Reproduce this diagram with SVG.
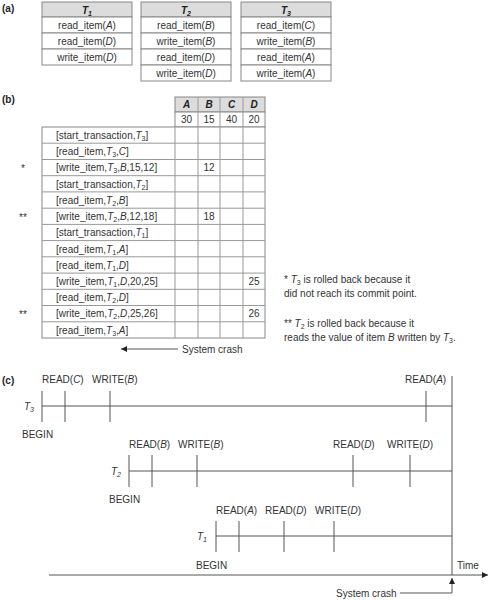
<svg xmlns="http://www.w3.org/2000/svg" width="490" height="600" viewBox="0 0 490 600">
<style>
text{font-family:"Liberation Sans",Arial,sans-serif;font-size:10px;fill:#333}
.lbl{font-weight:bold;font-size:10px;fill:#222}
.hd{font-weight:bold;font-style:italic;fill:#222}
.c{text-anchor:middle}
.cell{fill:#fff;stroke:#888;stroke-width:1}
.hcell{fill:#dcdcdc;stroke:#888;stroke-width:1}
.ln{stroke:#999;stroke-width:1;fill:none}
.tl{stroke:#555;stroke-width:1;fill:none}
</style>
<defs>
<marker id="ah" viewBox="0 0 10 10" refX="10" refY="5" markerWidth="8" markerHeight="6" orient="auto" markerUnits="userSpaceOnUse"><path d="M0,0 L10,5 L0,10 z" fill="#222"/></marker>
</defs>
<rect width="490" height="600" fill="#fff"/>

<text class="lbl" x="2" y="12">(a)</text>
<g id="T1table">
<rect class="hcell" x="42" y="2" width="90" height="15"/>
<rect class="cell" x="42" y="17" width="90" height="16"/>
<rect class="cell" x="42" y="33" width="90" height="16"/>
<rect class="cell" x="42" y="49" width="90" height="16"/>
<text class="hd c" x="87" y="14">T<tspan font-size="7" dy="2">1</tspan></text>
<text class="c" x="87" y="29">read_item(<tspan font-style="italic">A</tspan>)</text>
<text class="c" x="87" y="45">read_item(<tspan font-style="italic">D</tspan>)</text>
<text class="c" x="87" y="61">write_item(<tspan font-style="italic">D</tspan>)</text>
</g>
<g id="T2table">
<rect class="hcell" x="141" y="2" width="90" height="15"/>
<rect class="cell" x="141" y="17" width="90" height="16"/>
<rect class="cell" x="141" y="33" width="90" height="16"/>
<rect class="cell" x="141" y="49" width="90" height="16"/>
<rect class="cell" x="141" y="65" width="90" height="16"/>
<text class="hd c" x="186" y="14">T<tspan font-size="7" dy="2">2</tspan></text>
<text class="c" x="186" y="29">read_item(<tspan font-style="italic">B</tspan>)</text>
<text class="c" x="186" y="45">write_item(<tspan font-style="italic">B</tspan>)</text>
<text class="c" x="186" y="61">read_item(<tspan font-style="italic">D</tspan>)</text>
<text class="c" x="186" y="77">write_item(<tspan font-style="italic">D</tspan>)</text>
</g>
<g id="T3table">
<rect class="hcell" x="241" y="2" width="90" height="15"/>
<rect class="cell" x="241" y="17" width="90" height="16"/>
<rect class="cell" x="241" y="33" width="90" height="16"/>
<rect class="cell" x="241" y="49" width="90" height="16"/>
<rect class="cell" x="241" y="65" width="90" height="16"/>
<text class="hd c" x="286" y="14">T<tspan font-size="7" dy="2">3</tspan></text>
<text class="c" x="286" y="29">read_item(<tspan font-style="italic">C</tspan>)</text>
<text class="c" x="286" y="45">write_item(<tspan font-style="italic">B</tspan>)</text>
<text class="c" x="286" y="61">read_item(<tspan font-style="italic">A</tspan>)</text>
<text class="c" x="286" y="77">write_item(<tspan font-style="italic">A</tspan>)</text>
</g>

<text class="lbl" x="2" y="103">(b)</text>
<g id="logtable">
<rect class="hcell" x="175" y="97" width="90" height="15"/>
<rect class="cell" x="175" y="112" width="90" height="15"/>
<rect class="cell" x="42" y="127" width="223" height="211"/>
<g class="ln">
<line x1="198" y1="97" x2="198" y2="338"/>
<line x1="220" y1="97" x2="220" y2="338"/>
<line x1="243" y1="97" x2="243" y2="338"/>
<line x1="175" y1="127" x2="175" y2="338"/>
<line x1="42" y1="143.2" x2="265" y2="143.2"/>
<line x1="42" y1="159.5" x2="265" y2="159.5"/>
<line x1="42" y1="175.7" x2="265" y2="175.7"/>
<line x1="42" y1="191.9" x2="265" y2="191.9"/>
<line x1="42" y1="208.2" x2="265" y2="208.2"/>
<line x1="42" y1="224.4" x2="265" y2="224.4"/>
<line x1="42" y1="240.6" x2="265" y2="240.6"/>
<line x1="42" y1="256.8" x2="265" y2="256.8"/>
<line x1="42" y1="273.1" x2="265" y2="273.1"/>
<line x1="42" y1="289.3" x2="265" y2="289.3"/>
<line x1="42" y1="305.5" x2="265" y2="305.5"/>
<line x1="42" y1="321.8" x2="265" y2="321.8"/>
</g>
<text class="hd c" x="186.5" y="108">A</text>
<text class="hd c" x="209" y="108">B</text>
<text class="hd c" x="231.5" y="108">C</text>
<text class="hd c" x="254" y="108">D</text>
<text class="c" x="186.5" y="123">30</text>
<text class="c" x="209" y="123">15</text>
<text class="c" x="231.5" y="123">40</text>
<text class="c" x="254" y="123">20</text>
<text x="56" y="139">[start_transaction,<tspan font-style="italic">T</tspan><tspan font-size="7" dy="2">3</tspan><tspan dy="-2">]</tspan></text>
<text x="56" y="155">[read_item,<tspan font-style="italic">T</tspan><tspan font-size="7" dy="2">3</tspan><tspan dy="-2">,</tspan><tspan font-style="italic">C</tspan>]</text>
<text x="56" y="171">[write_item,<tspan font-style="italic">T</tspan><tspan font-size="7" dy="2">3</tspan><tspan dy="-2">,</tspan><tspan font-style="italic">B</tspan>,15,12]</text>
<text x="56" y="187.5">[start_transaction,<tspan font-style="italic">T</tspan><tspan font-size="7" dy="2">2</tspan><tspan dy="-2">]</tspan></text>
<text x="56" y="204">[read_item,<tspan font-style="italic">T</tspan><tspan font-size="7" dy="2">2</tspan><tspan dy="-2">,</tspan><tspan font-style="italic">B</tspan>]</text>
<text x="56" y="220">[write_item,<tspan font-style="italic">T</tspan><tspan font-size="7" dy="2">2</tspan><tspan dy="-2">,</tspan><tspan font-style="italic">B</tspan>,12,18]</text>
<text x="56" y="236">[start_transaction,<tspan font-style="italic">T</tspan><tspan font-size="7" dy="2">1</tspan><tspan dy="-2">]</tspan></text>
<text x="56" y="252.5">[read_item,<tspan font-style="italic">T</tspan><tspan font-size="7" dy="2">1</tspan><tspan dy="-2">,</tspan><tspan font-style="italic">A</tspan>]</text>
<text x="56" y="268.5">[read_item,<tspan font-style="italic">T</tspan><tspan font-size="7" dy="2">1</tspan><tspan dy="-2">,</tspan><tspan font-style="italic">D</tspan>]</text>
<text x="56" y="285">[write_item,<tspan font-style="italic">T</tspan><tspan font-size="7" dy="2">1</tspan><tspan dy="-2">,</tspan><tspan font-style="italic">D</tspan>,20,25]</text>
<text x="56" y="301">[read_item,<tspan font-style="italic">T</tspan><tspan font-size="7" dy="2">2</tspan><tspan dy="-2">,</tspan><tspan font-style="italic">D</tspan>]</text>
<text x="56" y="317">[write_item,<tspan font-style="italic">T</tspan><tspan font-size="7" dy="2">2</tspan><tspan dy="-2">,</tspan><tspan font-style="italic">D</tspan>,25,26]</text>
<text x="56" y="333.5">[read_item,<tspan font-style="italic">T</tspan><tspan font-size="7" dy="2">3</tspan><tspan dy="-2">,</tspan><tspan font-style="italic">A</tspan>]</text>
<text class="c" x="209" y="171">12</text>
<text class="c" x="209" y="220">18</text>
<text class="c" x="254" y="285">25</text>
<text class="c" x="254" y="317">26</text>
<text x="21" y="172">*</text>
<text x="19" y="221">**</text>
<text x="19" y="318">**</text>
</g>
<g id="notes">
<text x="284" y="283">* <tspan font-style="italic">T</tspan><tspan font-size="7" dy="2">3</tspan><tspan dy="-2"> is rolled back because it</tspan></text>
<text x="284" y="297">did not reach its commit point.</text>
<text x="284" y="327">** <tspan font-style="italic">T</tspan><tspan font-size="7" dy="2">2</tspan><tspan dy="-2"> is rolled back because it</tspan></text>
<text x="284" y="341">reads the value of item <tspan font-style="italic">B</tspan> written by <tspan font-style="italic">T</tspan><tspan font-size="7" dy="2">3</tspan><tspan dy="-2">.</tspan></text>
</g>
<g id="crashB">
<line class="tl" x1="178" y1="349" x2="121" y2="349" stroke="#222" marker-end="url(#ah)"/>
<text x="182" y="353">System crash</text>
</g>

<text class="lbl" x="2" y="384">(c)</text>
<g id="connectors" class="tl">
<line x1="42" y1="406" x2="452" y2="406"/>
<line x1="42" y1="391" x2="42" y2="422"/>
<line x1="65" y1="391" x2="65" y2="422"/>
<line x1="110" y1="391" x2="110" y2="422"/>
<line x1="426" y1="391" x2="426" y2="422"/>
<line x1="452" y1="376" x2="452" y2="575"/>
<line x1="129" y1="471" x2="452" y2="471"/>
<line x1="129" y1="455" x2="129" y2="487"/>
<line x1="152" y1="455" x2="152" y2="487"/>
<line x1="197" y1="455" x2="197" y2="487"/>
<line x1="353" y1="455" x2="353" y2="487"/>
<line x1="410" y1="455" x2="410" y2="487"/>
<line x1="216" y1="536" x2="452" y2="536"/>
<line x1="216" y1="521" x2="216" y2="552"/>
<line x1="239" y1="521" x2="239" y2="552"/>
<line x1="284" y1="521" x2="284" y2="552"/>
<line x1="334" y1="521" x2="334" y2="552"/>
<line x1="49" y1="575" x2="488" y2="575" marker-end="url(#ah)"/>
<polyline points="400,593 452,593 452,578" marker-end="url(#ah)"/>
</g>
<g id="T3line">
<text x="24" y="410" font-style="italic">T<tspan font-size="7" dy="2">3</tspan></text>
<text x="42" y="383">READ(<tspan font-style="italic">C</tspan>)</text>
<text x="92" y="383">WRITE(<tspan font-style="italic">B</tspan>)</text>
<text x="405" y="383">READ(<tspan font-style="italic">A</tspan>)</text>
<text x="22" y="438">BEGIN</text>
</g>
<g id="T2line">
<text x="111" y="475" font-style="italic">T<tspan font-size="7" dy="2">2</tspan></text>
<text x="129" y="448">READ(<tspan font-style="italic">B</tspan>)</text>
<text x="178" y="448">WRITE(<tspan font-style="italic">B</tspan>)</text>
<text x="333" y="448">READ(<tspan font-style="italic">D</tspan>)</text>
<text x="387" y="448">WRITE(<tspan font-style="italic">D</tspan>)</text>
<text x="109" y="503">BEGIN</text>
</g>
<g id="T1line">
<text x="197" y="540" font-style="italic">T<tspan font-size="7" dy="2">1</tspan></text>
<text x="216" y="514">READ(<tspan font-style="italic">A</tspan>)</text>
<text x="265" y="514">READ(<tspan font-style="italic">D</tspan>)</text>
<text x="315" y="514">WRITE(<tspan font-style="italic">D</tspan>)</text>
<text x="196" y="569">BEGIN</text>
</g>
<g id="timeaxis">
<text x="457" y="569">Time</text>
<text x="336" y="597">System crash</text>
</g>
</svg>
